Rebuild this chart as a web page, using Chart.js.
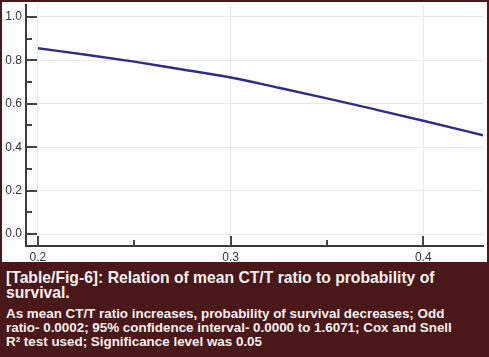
<!DOCTYPE html>
<html>
<head>
<meta charset="utf-8">
<script src="https://cdn.jsdelivr.net/npm/chart.js@4"></script>
<style>
  html, body { margin: 0; padding: 0; background: #ffffff; }
  #wrap { position: relative; width: 489px; height: 357px; overflow: hidden; background: #fff; }
  #chartBox { position: absolute; left: 0; top: 0; width: 489px; height: 262px; }
  #caption { position: absolute; left: 0; top: 262px; width: 489px; height: 95px; background: #4a1818; }
  .cap { position: absolute; left: 6px; color: #f7f0f0; font-family: "Liberation Sans", Arial, Helvetica, sans-serif; font-weight: bold; white-space: nowrap; }
  #capTitle { top: 8px; font-size: 15.7px; line-height: 15px; }
  #capBody { top: 44.5px; font-size: 13.4px; line-height: 14px; }
  #frame { position: absolute; left: 0; top: 0; width: 489px; height: 357px; box-sizing: border-box; border: 2px solid #4a1818; pointer-events: none; }
</style>
</head>
<body>
<div id="wrap">
  <div id="chartBox"><canvas id="c" width="489" height="262"></canvas></div>
  <div id="caption">
    <div class="cap" id="capTitle">[Table/Fig-6]: Relation of mean CT/T ratio to probability of<br>survival.</div>
    <div class="cap" id="capBody">As mean CT/T ratio increases, probability of survival decreases; Odd<br>ratio- 0.0002; 95% confidence interval- 0.0000 to 1.6071; Cox and Snell<br>R² test used; Significance level was 0.05</div>
  </div>
  <div id="frame"></div>
</div>
<script>
// Data
const meanCtRatio = [0.2, 0.225, 0.25, 0.275, 0.3, 0.325, 0.35, 0.375, 0.4, 0.431];
const survivalProb = [0.856, 0.826, 0.794, 0.758, 0.721, 0.674, 0.625, 0.574, 0.522, 0.455];
const xTickValues = [0.2, 0.3, 0.4];
const xMinorTicks = [0.25, 0.35];
const yTickValues = [0.0, 0.2, 0.4, 0.6, 0.8, 1.0];
const yMinorTicks = [0.1, 0.3, 0.5, 0.7, 0.9];

const points = meanCtRatio.map((x, i) => ({ x: x, y: survivalProb[i] }));

const innerTicks = {
  id: 'innerTicks',
  afterDatasetsDraw(chart) {
    const ctx = chart.ctx;
    const xs = chart.scales.x, ys = chart.scales.y;
    const a = chart.chartArea;
    ctx.save();
    ctx.strokeStyle = '#444444';
    ctx.lineWidth = 2;
    ctx.beginPath();
    yTickValues.forEach(v => { const p = Math.round(ys.getPixelForValue(v)); ctx.moveTo(a.left, p); ctx.lineTo(a.left + 11, p); });
    yMinorTicks.forEach(v => { const p = Math.round(ys.getPixelForValue(v)); ctx.moveTo(a.left, p); ctx.lineTo(a.left + 6, p); });
    xTickValues.forEach(v => { const p = Math.round(xs.getPixelForValue(v)); ctx.moveTo(p, a.bottom); ctx.lineTo(p, a.bottom - 10); });
    xMinorTicks.forEach(v => { const p = Math.round(xs.getPixelForValue(v)); ctx.moveTo(p, a.bottom); ctx.lineTo(p, a.bottom - 6); });
    ctx.stroke();
    ctx.restore();
  }
};

new Chart(document.getElementById('c'), {
  type: 'line',
  data: {
    datasets: [{
      data: points,
      borderColor: '#2e2d84',
      borderWidth: 2.4,
      pointRadius: 0,
      cubicInterpolationMode: 'monotone',
      fill: false
    }]
  },
  options: {
    responsive: false,
    animation: false,
    devicePixelRatio: 1,
    layout: { padding: { top: 5, right: 6, left: 0, bottom: 0 } },
    plugins: { legend: { display: false }, tooltip: { enabled: false } },
    scales: {
      x: {
        type: 'linear',
        min: 0.1938,
        max: 0.431,
        afterBuildTicks: s => { s.ticks = xTickValues.map(v => ({ value: v })); },
        afterFit: s => { s.height = 16; s.paddingLeft = 0; s.paddingRight = 0; },
        grid: { color: '#e9e9e9', lineWidth: 1, drawTicks: false },
        border: { color: '#3a3a3a', width: 2 },
        ticks: {
          padding: 4,
          color: '#333333',
          font: { family: 'Liberation Sans', size: 12 },
          callback: v => Number(v).toFixed(1)
        }
      },
      y: {
        min: -0.055,
        max: 1.055,
        afterBuildTicks: s => { s.ticks = yTickValues.map(v => ({ value: v })); },
        afterFit: s => { s.width = 26; s.paddingTop = 0; s.paddingBottom = 0; },
        grid: { color: '#e9e9e9', lineWidth: 1, drawTicks: false },
        border: { color: '#3a3a3a', width: 2 },
        ticks: {
          padding: 4,
          color: '#333333',
          font: { family: 'Liberation Sans', size: 12 },
          callback: v => Number(v).toFixed(1)
        }
      }
    }
  },
  plugins: [innerTicks]
});
</script>
</body>
</html>
